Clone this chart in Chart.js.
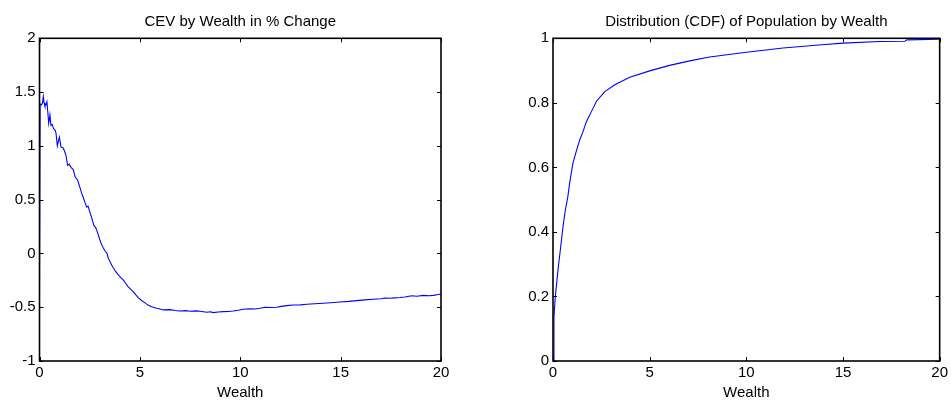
<!DOCTYPE html>
<html>
<head>
<meta charset="utf-8">
<script src="https://cdn.jsdelivr.net/npm/chart.js@4/dist/chart.umd.min.js"></script>
<style>
  html, body { margin: 0; padding: 0; background: #fff; }
  body { width: 951px; height: 403px; position: relative; overflow: hidden; }
  canvas { position: absolute; top: 0; }
  #cev { left: 0; }
  #cdf { left: 480px; }
</style>
</head>
<body>
<canvas id="cev" width="470" height="403"></canvas>
<canvas id="cdf" width="471" height="403"></canvas>
<script>
// CEV by wealth
var cevWealth = [0, 0.03, 0.1, 0.15, 0.19, 0.23, 0.27, 0.32, 0.37, 0.42, 0.46, 0.52, 0.57, 0.63, 0.7, 0.77, 0.82, 0.89, 0.95, 0.99,
    1.07, 1.18, 1.25, 1.32, 1.4, 1.48, 1.57, 1.68, 1.78, 1.9, 2.02, 2.1, 2.18, 2.27, 2.35, 2.42, 2.48, 2.6, 2.71, 2.8,
    2.88, 3.01, 3.1, 3.18, 3.27, 3.35, 3.42, 3.51, 3.6, 3.68, 3.8, 3.93, 4.05, 4.17, 4.3, 4.42, 4.55, 4.67, 4.8, 4.92,
    5.1, 5.26, 5.4, 5.59, 5.83, 6.0, 6.17, 6.5, 6.75, 7.0, 7.3, 7.5, 7.8, 8.0, 8.33, 8.5, 8.66, 8.9, 9.16, 9.4,
    9.65, 9.9, 10.15, 10.5, 10.75, 10.98, 11.23, 11.5, 11.81, 12.05, 12.31, 12.65, 13.0, 13.31, 13.7, 14.14, 14.5, 14.97, 15.4, 15.8,
    16.2, 16.63, 17.0, 17.2, 17.46, 17.7, 17.96, 18.2, 18.54, 18.8, 19.12, 19.4, 19.62, 19.8, 20.0];
var cevValue = [-0.35, 1.39, 1.38, 1.40, 1.46, 1.40, 1.37, 1.38, 1.41, 1.30, 1.21, 1.29, 1.19, 1.20, 1.16, 1.15, 1.12, 1.00, 1.05, 1.08,
    0.99, 0.98, 0.95, 0.91, 0.82, 0.83, 0.80, 0.78, 0.71, 0.68, 0.61, 0.56, 0.52, 0.47, 0.43, 0.44, 0.40, 0.33, 0.26, 0.24,
    0.20, 0.125, 0.08, 0.05, 0.02, 0.005, -0.04, -0.076, -0.11, -0.135, -0.17, -0.20, -0.225, -0.246, -0.28, -0.31, -0.335, -0.355, -0.385, -0.41,
    -0.44, -0.46, -0.48, -0.495, -0.51, -0.516, -0.525, -0.522, -0.53, -0.535, -0.532, -0.537, -0.534, -0.538, -0.547, -0.542, -0.55, -0.545, -0.541, -0.54,
    -0.535, -0.528, -0.519, -0.515, -0.516, -0.51, -0.50, -0.502, -0.50, -0.492, -0.485, -0.48, -0.478, -0.473, -0.468, -0.463, -0.458, -0.451, -0.446, -0.439,
    -0.432, -0.426, -0.421, -0.415, -0.417, -0.413, -0.41, -0.405, -0.393, -0.398, -0.39, -0.393, -0.39, -0.384, -0.377];

// CDF of population by wealth
var cdfWealth = [0, 0.05, 0.12, 0.26, 0.4, 0.52, 0.64, 0.77, 0.86, 1.03, 1.2, 1.38, 1.55, 1.72, 1.98, 2.25, 2.68, 3.2, 3.97, 5.0,
    6.03, 7.07, 8.1, 10, 11.9, 13.9, 15, 16.9, 18.2, 18.3, 20];
var cdfValue = [0, 0.137, 0.20, 0.283, 0.355, 0.417, 0.468, 0.51, 0.551, 0.613, 0.649, 0.685, 0.71, 0.741, 0.772, 0.805, 0.835, 0.856, 0.879, 0.899,
    0.916, 0.930, 0.942, 0.957, 0.970, 0.980, 0.985, 0.990, 0.991, 0.995, 0.997];

var wealthTicks = [0, 5, 10, 15, 20];
var cevTicks = [-1, -0.5, 0, 0.5, 1, 1.5, 2];
var cdfTicks = [0, 0.2, 0.4, 0.6, 0.8, 1];

var FONT = "'Liberation Sans', Arial, sans-serif";

// boite et graduations vers l'interieur, comme matlab
var boxPlugin = {
    id: 'matlabBox',
    afterDatasetsDraw: function(chart) {
        var ctx = chart.ctx;
        var a = chart.chartArea;
        var xs = chart.scales.x, ys = chart.scales.y;
        ctx.save();
        ctx.strokeStyle = '#000';
        ctx.lineWidth = 1;
        ctx.beginPath();
        xs.ticks.forEach(function(t) {
            var px = Math.round(xs.getPixelForValue(t.value)) + 0.5;
            ctx.moveTo(px, a.bottom); ctx.lineTo(px, a.bottom - 4);
            ctx.moveTo(px, a.top); ctx.lineTo(px, a.top + 4);
        });
        ys.ticks.forEach(function(t) {
            var py = Math.round(ys.getPixelForValue(t.value)) + 0.5;
            ctx.moveTo(a.left, py); ctx.lineTo(a.left + 4, py);
            ctx.moveTo(a.right, py); ctx.lineTo(a.right - 4, py);
        });
        ctx.stroke();
        ctx.lineWidth = 1.6;
        ctx.strokeRect(a.left, a.top, a.right - a.left, a.bottom - a.top);
        ctx.restore();
    }
};

// libelles comme matlab : 2, 1.5, 1, 0.5 ...
function plainLabel(value) {
    return String(Math.round(value * 100) / 100);
}

function makeChart(id, xVals, yVals, title, yTicks, yWidth, padRight) {
    var pts = [];
    for (var i = 0; i < xVals.length; i++) {
        pts.push({ x: xVals[i], y: yVals[i] });
    }
    return new Chart(document.getElementById(id), {
        type: 'line',
        data: {
            datasets: [{
                data: pts,
                borderColor: '#0000ff',
                borderWidth: 1.1,
                pointRadius: 0,
                tension: 0,
                fill: false
            }]
        },
        plugins: [boxPlugin],
        options: {
            responsive: false,
            animation: false,
            devicePixelRatio: 1,
            layout: { padding: { left: 0, right: padRight, top: 0, bottom: 0 } },
            plugins: {
                legend: { display: false },
                tooltip: { enabled: false },
                title: {
                    display: true,
                    text: title,
                    fullSize: false,
                    color: '#000',
                    font: { family: FONT, size: 15, weight: 'normal', lineHeight: 1.2 },
                    padding: { top: 12.5, bottom: 7.8 }
                }
            },
            scales: {
                x: {
                    type: 'linear',
                    min: 0,
                    max: 20,
                    afterBuildTicks: function(s) { s.ticks = wealthTicks.map(function(v) { return { value: v }; }); },
                    afterFit: function(s) { s.height = 42; },
                    grid: { display: false, drawTicks: false },
                    border: { display: false },
                    ticks: { color: '#000', padding: 3, maxRotation: 0, font: { family: FONT, size: 15 }, callback: plainLabel },
                    title: {
                        display: true,
                        text: 'Wealth',
                        color: '#000',
                        font: { family: FONT, size: 15, lineHeight: 1.2 },
                        padding: { top: 0, bottom: 1 }
                    }
                },
                y: {
                    type: 'linear',
                    min: yTicks[0],
                    max: yTicks[yTicks.length - 1],
                    afterBuildTicks: function(s) { s.ticks = yTicks.map(function(v) { return { value: v }; }); },
                    afterFit: function(s) { s.width = yWidth; },
                    grid: { display: false, drawTicks: false },
                    border: { display: false },
                    ticks: { color: '#000', padding: 4, font: { family: FONT, size: 15 }, callback: plainLabel }
                }
            }
        }
    });
}

makeChart('cev', cevWealth, cevValue, 'CEV by Wealth in % Change', cevTicks, 39.5, 29);
makeChart('cdf', cdfWealth, cdfValue, 'Distribution (CDF) of Population by Wealth', cdfTicks, 73, 10);
</script>
</body>
</html>
